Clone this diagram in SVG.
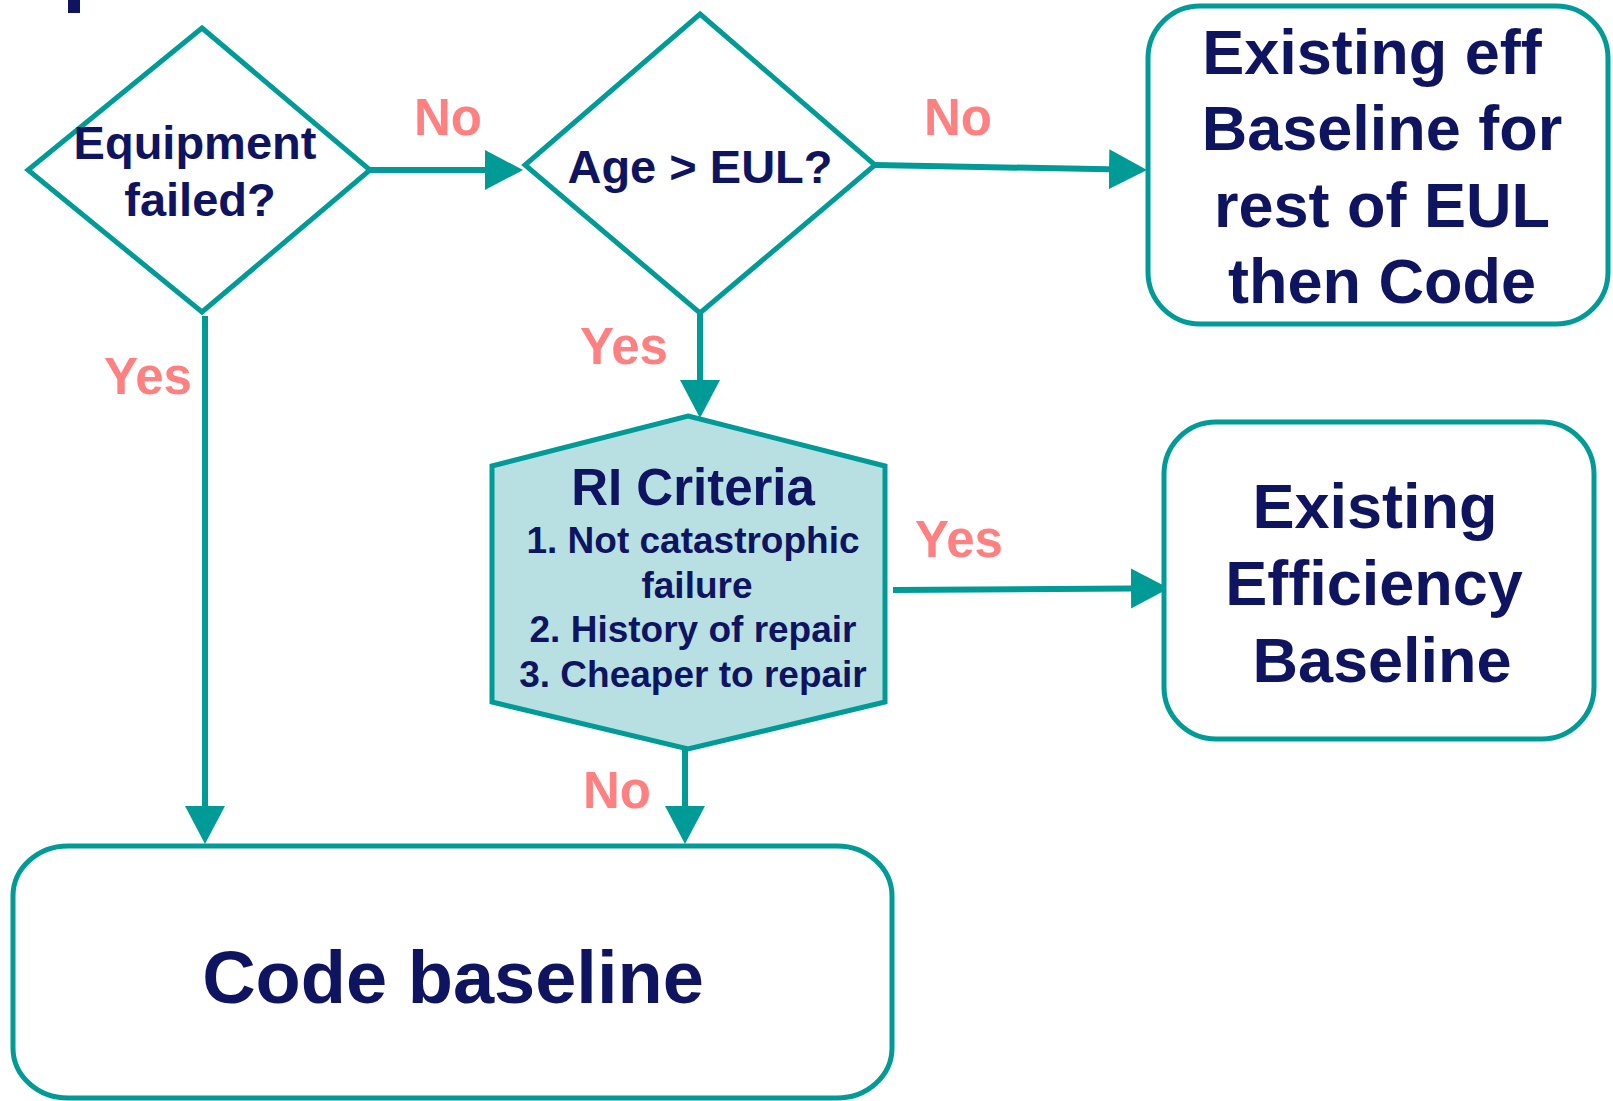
<svg xmlns="http://www.w3.org/2000/svg" width="1613" height="1101" viewBox="0 0 1613 1101">
<style>
.shape{fill:#ffffff;stroke:#009a97;stroke-width:5;stroke-linejoin:miter}
.hex{fill:#b8e0e3;stroke:#009a97;stroke-width:5}
.conn{stroke:#009a97;stroke-width:6;fill:none}
.t{font-family:"Liberation Sans",Arial,sans-serif;font-weight:bold;fill:#0f1461;text-anchor:middle}
.lbl{font-family:"Liberation Sans",Arial,sans-serif;font-weight:bold;fill:#ff8080;text-anchor:middle;font-size:51px}
</style>
<defs>
<marker id="ah" markerUnits="userSpaceOnUse" markerWidth="40" markerHeight="42" refX="0" refY="20" orient="auto" viewBox="0 0 40 42">
<path d="M0,0 L38,20 L0,40 Z" fill="#009a97"/>
</marker>
</defs>
<rect x="68" y="0" width="12" height="13" fill="#0f1461"/>
<g id="connectors">
<line class="conn" x1="370" y1="170" x2="485" y2="170" marker-end="url(#ah)"/>
<line class="conn" x1="875" y1="165" x2="1109" y2="169.3" marker-end="url(#ah)"/>
<line class="conn" x1="700" y1="313" x2="700" y2="380" marker-end="url(#ah)"/>
<line class="conn" x1="893" y1="590" x2="1131" y2="588.5" marker-end="url(#ah)"/>
<line class="conn" x1="205" y1="316" x2="205" y2="806" marker-end="url(#ah)"/>
<line class="conn" x1="685" y1="750" x2="685" y2="806" marker-end="url(#ah)"/>
<text class="lbl" x="448" y="135">No</text>
<text class="lbl" x="958" y="135">No</text>
<text class="lbl" x="148" y="394">Yes</text>
<text class="lbl" x="624" y="364">Yes</text>
<text class="lbl" x="959" y="557">Yes</text>
<text class="lbl" x="617" y="808">No</text>
</g>
<g id="equipment-failed">
<polygon class="shape" points="202,28 370,170 202,312 28,170"/>
<text class="t" font-size="47" x="195" y="159">Equipment</text>
<text class="t" font-size="47" x="200" y="216">failed?</text>
</g>
<g id="age-eul">
<polygon class="shape" points="700,14 875,165 700,313 525,165"/>
<text class="t" font-size="47" x="700" y="183">Age &gt; EUL?</text>
</g>
<g id="existing-eff-code">
<rect class="shape" x="1148" y="6" width="460" height="318" rx="52" ry="52"/>
<text class="t" font-size="63" x="1372" y="74">Existing eff</text>
<text class="t" font-size="63" x="1382" y="150">Baseline for</text>
<text class="t" font-size="63" x="1382" y="227">rest of EUL</text>
<text class="t" font-size="63" x="1382" y="303">then Code</text>
</g>
<g id="ri-criteria">
<polygon class="hex" points="688,416 885,466 885,702 688,749 492,702 492,466"/>
<text class="t" font-size="51" x="693" y="505">RI Criteria</text>
<text class="t" font-size="37" x="693" y="553">1. Not catastrophic</text>
<text class="t" font-size="37" x="697" y="598">failure</text>
<text class="t" font-size="37" x="693" y="642">2. History of repair</text>
<text class="t" font-size="37" x="693" y="687">3. Cheaper to repair</text>
</g>
<g id="existing-efficiency">
<rect class="shape" x="1164" y="422" width="430" height="317" rx="52" ry="52"/>
<text class="t" font-size="63" x="1375" y="528">Existing</text>
<text class="t" font-size="63" x="1374" y="605">Efficiency</text>
<text class="t" font-size="63" x="1382" y="682">Baseline</text>
</g>
<g id="code-baseline">
<rect class="shape" x="13" y="846" width="879" height="252" rx="55" ry="50"/>
<text class="t" font-size="74" x="453" y="1003">Code baseline</text>
</g>
</svg>
